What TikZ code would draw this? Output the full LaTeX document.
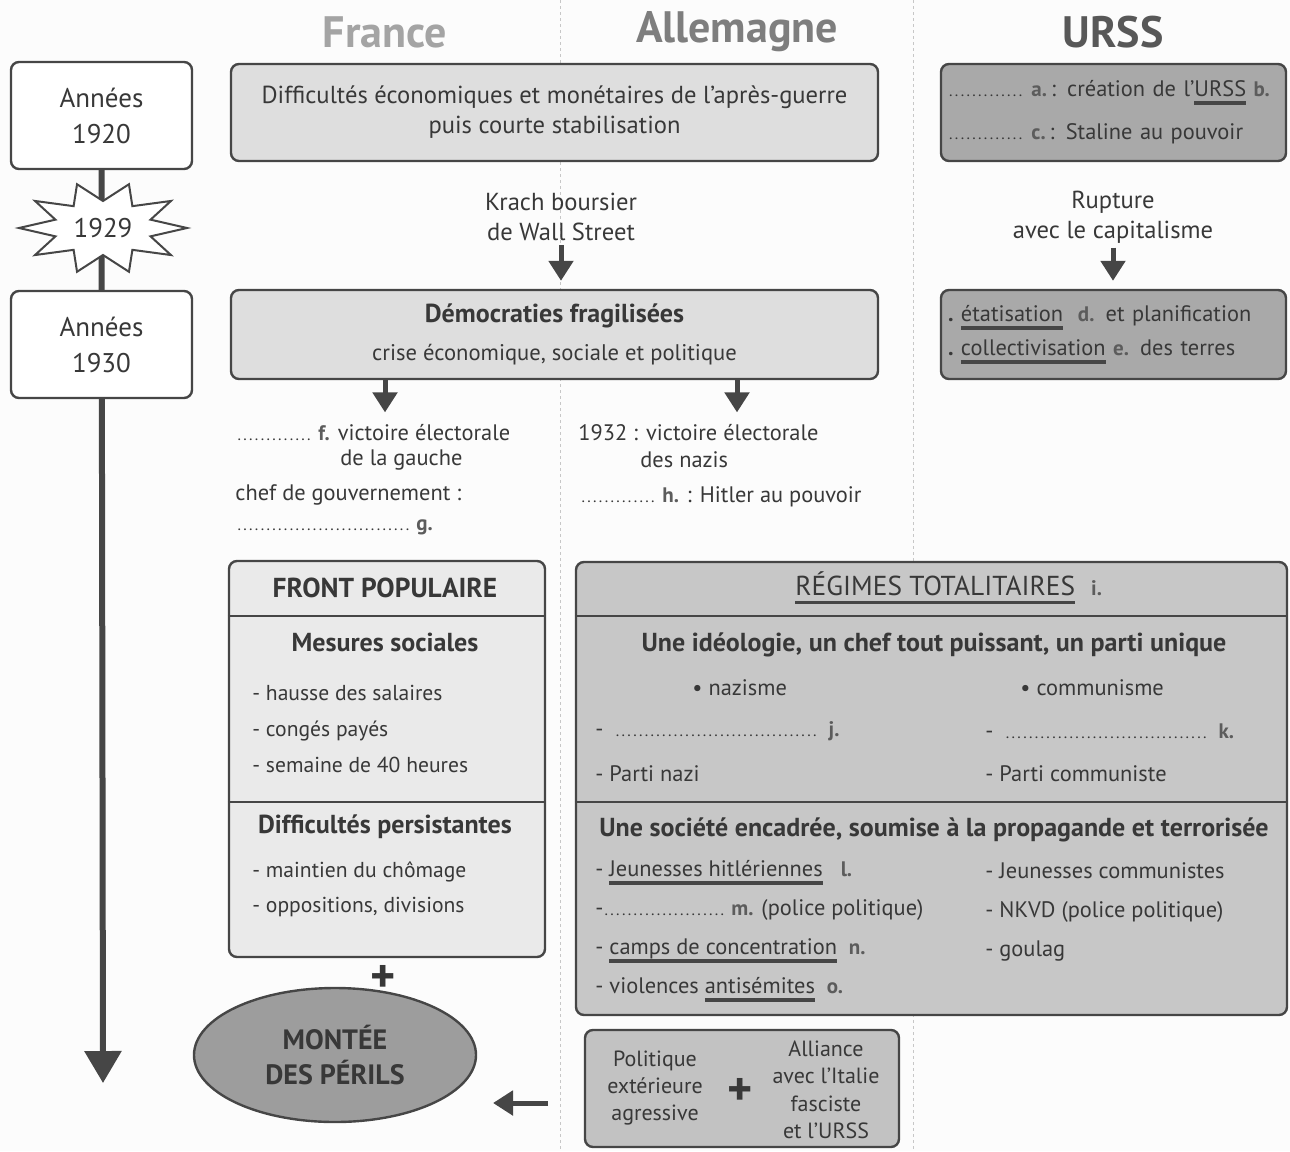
\documentclass[tikz,border=0pt]{standalone}
\usepackage{fontspec}
\setmainfont{PT Sans}
\usetikzlibrary{arrows.meta,shapes.geometric,positioning}

\definecolor{texte}{HTML}{383838}
\definecolor{bord}{HTML}{464646}
\definecolor{fond}{HTML}{FCFCFC}
\definecolor{clair}{HTML}{DEDEDE}
\definecolor{tresclair}{HTML}{EAEAEA}
\definecolor{moyen}{HTML}{C7C7C7}
\definecolor{bas}{HTML}{C2C2C2}
\definecolor{fonce}{HTML}{A9A9A9}
\definecolor{ellfond}{HTML}{9D9D9D}
\definecolor{lettre}{HTML}{5C5C5C}
\definecolor{grisfr}{HTML}{A4A4A4}
\definecolor{grisde}{HTML}{7E7E7E}
\definecolor{grissu}{HTML}{585858}

\pgfdeclarelayer{arriere}
\pgfsetlayers{arriere,main}

\newcommand\lettre[1]{{\fontsize{10.5}{12}\selectfont\bfseries\color{lettre}#1}}
\newcommand\pointilles[1]{\leavevmode\hbox to #1{\leaders\hbox to 2.9pt{\hss\fontsize{8}{8}\selectfont.\hss}\hfill}}
\newcommand\souligne[1]{\setbox0=\hbox{#1}\rlap{\color{bord}\rule[-4pt]{\wd0}{1.7pt}}\box0}

\tikzset{
		txt/.style={text=texte, inner sep=0pt, font=\fontsize{11.2}{15}\selectfont},
		moyentxt/.style={txt, font=\fontsize{12.3}{15}\selectfont},
		grand/.style={txt, font=\fontsize{13.5}{18}\selectfont},
		titre/.style={inner sep=0pt, font=\fontsize{22}{26}\selectfont\bfseries},
		entete/.style={txt, font=\fontsize{13}{15}\selectfont\bfseries},
		plus/.style={txt, font=\fontsize{24}{24}\selectfont\bfseries},
		boite/.style={draw=bord, line width=1.2pt, rounded corners=4pt, inner sep=0pt},
		annee/.style={boite, fill=white, grand, align=center, minimum width=90.5pt, minimum height=53.5pt},
		boiteclaire/.style={boite, fill=clair, txt, align=center},
		boiteurss/.style={boite, fill=fonce, txt, align=left, inner xsep=3.5pt, text width=165.5pt},
		trait/.style={draw=bord, line width=1.2pt},
		sep/.style={draw=black!22, line width=0.5pt, dash pattern=on 1.5pt off 1.5pt},
		fleche/.style={draw=bord, line width=2.5pt, -{Triangle[width=12pt,length=10pt]}},
		axe/.style={draw=bord, line width=3pt, -{Triangle[width=18pt,length=16pt]}}
	}

\begin{document}
\begin{tikzpicture}[x=0.5pt,y=-0.5pt]
	\useasboundingbox (0,0) rectangle (1290,1151);
	\begin{pgfonlayer}{arriere}
		\fill[fond] (0,0) rectangle (1290,1151);
		\draw[sep] (560,0) -- (560,1151);
		\draw[sep] (913,0) -- (913,1151);
	\end{pgfonlayer}

	% titres des colonnes
	\node[titre, text=grisfr] (fr) at (385,32) {France};
	\node[titre, text=grisde] (de) at (737,32) {Allemagne};
	\node[titre, text=grissu] (su) at (1113,32) {URSS};

	% frise
	\node[annee] (a20) at (101.5,115.5) {Années\\1920};
	\filldraw[fill=white, draw=bord, line width=1pt]
		plot[samples at={0,1,...,19}, variable=\k]
		({103+ifthenelse(mod(\k,2)==0,84,50)*cos(\k*18)},{228+ifthenelse(mod(\k,2)==0,46,27)*sin(\k*18)}) -- cycle;
	\node[grand] (y29) at (103,228) {1929};
	\node[annee] (a30) at (101.5,344.5) {Années\\1930};
	\coordinate (fin) at (103,1083);
	\begin{pgfonlayer}{arriere}
		\draw[axe] (a20.south) -- (fin);
	\end{pgfonlayer}

	% haut : France et Allemagne
	\node[boiteclaire, moyentxt, minimum width=323.5pt, minimum height=48.5pt] (diff) at (554.5,112.5)
		{Difficultés économiques et monétaires de l’après-guerre\\puis courte stabilisation};
	\node[moyentxt, align=center] (krach) at (561,217) {Krach boursier\\de Wall Street};
	\node[boiteclaire, minimum width=323.5pt, minimum height=44.5pt] (demo) at (554.5,334.5)
		{{\fontsize{13}{15}\selectfont\bfseries Démocraties fragilisées}\\[4pt]{\fontsize{11.3}{15}\selectfont crise économique, sociale et politique}};
	\draw[fleche, shorten <=2pt, shorten >=4pt] (krach.south) -- (krach.south |- demo.north);

	% URSS
	\node[boiteurss, minimum height=48.5pt] (creation) at (1113.5,112.5)
		{\pointilles{38pt} \lettre{a.}\hspace{2pt}: création de l’\souligne{URSS}\ \lettre{b.}\\[6.5pt]
		 \pointilles{38pt} \lettre{c.}\hspace{2pt}: Staline au pouvoir};
	\node[moyentxt, align=center] (rupt) at (1113,217) {Rupture\\avec le capitalisme};
	\node[boiteurss, minimum height=44.5pt] (plan) at (1113.5,334.5)
		{\textbf{.}\ \souligne{étatisation}\ \ \lettre{d.} et planification\\[2pt]
		 \textbf{.}\ \souligne{collectivisation}\ \lettre{e.} des terres};
	\draw[fleche, shorten <=2pt, shorten >=4pt] (rupt.south) -- (rupt.south |- plan.north);

	% France 1936
	\node[txt, anchor=west] (fvict) at (236,433) {\pointilles{38pt} \lettre{f.} victoire électorale};
	\node[txt, anchor=west] (fgau) at (340,460) {de la gauche};
	\node[txt, anchor=west] (fchef) at (235,495) {chef de gouvernement :};
	\node[txt, anchor=west] (fg) at (236,527) {\pointilles{87pt} \lettre{g.}};
	\draw[fleche, shorten >=6pt] (demo.south -| fr) -- (fvict.north -| fr);

	% Allemagne 1932
	\node[txt, anchor=west] (dvict) at (578,433) {1932 : victoire électorale};
	\node[txt, anchor=west] (dnaz) at (640,460) {des nazis};
	\node[txt, anchor=west] (dhit) at (580,497) {\pointilles{38pt} \lettre{h.} : Hitler au pouvoir};
	\draw[fleche, shorten >=6pt] (demo.south -| de) -- (dvict.north -| de);

	% Front populaire
	\node[boite, fill=tresclair, minimum width=158pt, minimum height=198pt] (front) at (387,759) {};
	\coordinate (h1) at (0,616);
	\coordinate (h2) at (0,802);
	\draw[trait] (front.west |- h1) -- (front.east |- h1);
	\draw[trait] (front.west |- h2) -- (front.east |- h2);
	\node[entete, font=\fontsize{13.7}{15}\selectfont\bfseries] (fptitre) at (385,588) {FRONT POPULAIRE};
	\node[entete] (mesures) at (385,642) {Mesures sociales};
	\node[txt, anchor=west, align=left, font=\fontsize{10.8}{15}\selectfont] (mliste) at (252,729)
		{- hausse des salaires\\[3pt]- congés payés\\[3pt]- semaine de 40 heures};
	\node[entete] (persist) at (385,827) {Difficultés persistantes};
	\node[txt, anchor=west, align=left, font=\fontsize{10.8}{15}\selectfont] (dliste) at (252,889.5)
		{- maintien du chômage\\[2.5pt]- oppositions, divisions};
	\node[plus] (plus1) at (383,979) {+};
	\node[ellipse, draw=bord, line width=1.2pt, fill=ellfond, minimum width=141pt, minimum height=67pt,
		text=texte, align=center, font=\fontsize{14}{17.5}\selectfont\bfseries] (perils) at (335,1055) {MONTÉE\\DES PÉRILS};

	% Régimes totalitaires
	\node[boite, fill=moyen, minimum width=355.5pt, minimum height=226.5pt] (regimes) at (931.5,788.5) {};
	\draw[trait] (regimes.west |- h1) -- (regimes.east |- h1);
	\draw[trait] (regimes.west |- h2) -- (regimes.east |- h2);
	\node[txt, anchor=west, font=\fontsize{13.7}{15}\selectfont] (rtitre) at (795,588) {\souligne{RÉGIMES TOTALITAIRES}\hspace{8pt}\lettre{i.}};
	\node[entete] (ideo) at (934,645) {Une idéologie, un chef tout puissant, un parti unique};
	\node[txt, anchor=west] (naz) at (692,688) {\textbullet\ nazisme};
	\node[txt, anchor=west] (com) at (1020,688) {\textbullet\ communisme};
	\node[txt, anchor=west] (j) at (595,731) {-\enspace\pointilles{104pt} \lettre{j.}};
	\node[txt, anchor=west] (k) at (985,731) {-\enspace\pointilles{104pt} \lettre{k.}};
	\node[txt, anchor=west] (pn) at (595,774) {- Parti nazi};
	\node[txt, anchor=west] (pc) at (985,774) {- Parti communiste};
	\node[entete] (societe) at (934,830) {Une société encadrée, soumise à la propagande et terrorisée};
	\node[txt, anchor=west, align=left] (nliste) at (595,931)
		{- \souligne{Jeunesses hitlériennes}\hspace{9pt}\lettre{l.}\\[4.5pt]
		 -\pointilles{61pt} \lettre{m.} (police politique)\\[4.5pt]
		 - \souligne{camps de concentration}\ \ \lettre{n.}\\[4.5pt]
		 - violences \souligne{antisémites}\ \ \lettre{o.}};
	\node[txt, anchor=west, align=left] (cliste) at (985,912)
		{- Jeunesses communistes\\[4.5pt]- NKVD (police politique)\\[4.5pt]- goulag};

	% politique extérieure
	\node[boite, fill=bas, minimum width=157pt, minimum height=58.5pt] (exterieur) at (742,1088.5) {};
	\node[txt, align=center, font=\fontsize{11}{13.5}\selectfont] (agress) at (655,1088) {Politique\\extérieure\\agressive};
	\node[plus] (plus2) at (740,1092) {+};
	\node[txt, align=center, font=\fontsize{11}{13.75}\selectfont] (alliance) at (826,1090) {Alliance\\avec l’Italie\\fasciste\\et l’URSS};
	\coordinate (fdep) at (548,1103);
	\coordinate (farr) at (493,1103);
	\draw[fleche] (fdep) -- (farr);
\end{tikzpicture}
\end{document}
